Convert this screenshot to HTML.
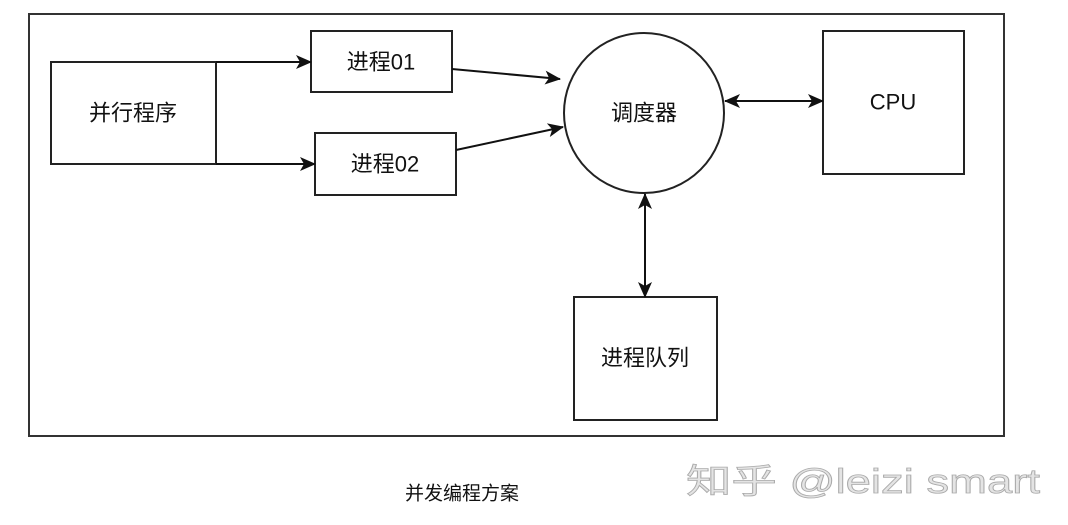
<!DOCTYPE html>
<html><head><meta charset="utf-8"><style>
html,body{margin:0;padding:0;background:#fff;width:1068px;height:525px;overflow:hidden}
svg text{font-family:"Liberation Sans","Noto Sans CJK SC",sans-serif;fill:#111}
</style></head><body>
<svg width="1068" height="525" viewBox="0 0 1068 525" xmlns="http://www.w3.org/2000/svg">
<defs><marker id="a" markerWidth="16" markerHeight="14" refX="15" refY="7" orient="auto" markerUnits="userSpaceOnUse"><path d="M0,0 L16,7 L0,14 L4,7 Z" fill="#111"/></marker>
<marker id="b" markerWidth="16" markerHeight="14" refX="1" refY="7" orient="auto" markerUnits="userSpaceOnUse"><path d="M16,0 L0,7 L16,14 L12,7 Z" fill="#111"/></marker></defs>
<g fill="none" stroke="#222" stroke-width="2">
<rect x="29" y="14" width="975" height="422" stroke="#333"/>
<rect x="51" y="62" width="165" height="102"/>
<rect x="311" y="31" width="141" height="61"/>
<rect x="315" y="133" width="141" height="62"/>
<circle cx="644" cy="113" r="80"/>
<rect x="823" y="31" width="141" height="143"/>
<rect x="574" y="297" width="143" height="123"/>
</g>
<g stroke="#111" stroke-width="2" fill="none">
<line x1="216" y1="62" x2="311" y2="62" marker-end="url(#a)"/>
<line x1="216" y1="164" x2="315" y2="164" marker-end="url(#a)"/>
<line x1="452" y1="69" x2="560" y2="79" marker-end="url(#a)"/>
<line x1="456" y1="150" x2="563" y2="127" marker-end="url(#a)"/>
<line x1="725" y1="101" x2="823" y2="101" marker-start="url(#b)" marker-end="url(#a)"/>
<line x1="645" y1="194" x2="645" y2="297" marker-start="url(#b)" marker-end="url(#a)"/>
</g>
<g font-size="22" text-anchor="middle" dominant-baseline="central">
<text x="133" y="113">并行程序</text>
<text x="381" y="62">进程01</text>
<text x="385" y="164">进程02</text>
<text x="644" y="113">调度器</text>
<text x="893" y="102">CPU</text>
<text x="645" y="358">进程队列</text>
<text x="462" y="494" font-size="19">并发编程方案</text>
</g>
<text x="686" y="493" font-size="34" textLength="354" lengthAdjust="spacingAndGlyphs" style="fill:#e4e4e4" stroke="#aaa" stroke-width="0.8">知乎 @leizi smart</text>
</svg>
</body></html>
